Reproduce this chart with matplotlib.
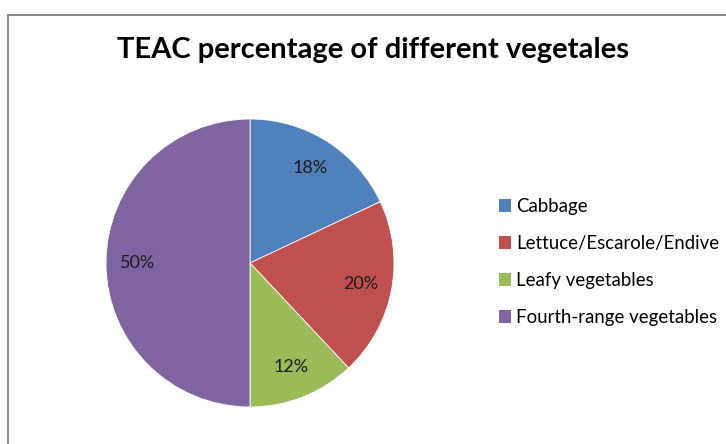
import matplotlib.pyplot as plt
from matplotlib.patches import Patch, Rectangle

# data
categories = ['Cabbage', 'Lettuce/Escarole/Endive', 'Leafy vegetables', 'Fourth-range vegetables']
shares = [18, 20, 12, 50]
colors = ['#4F81BD', '#C0504D', '#9BBB59', '#8064A2']
title = 'TEAC percentage of different vegetales'

plt.rcParams['font.family'] = ['Lato', 'DejaVu Sans']

W, H = 726, 444
fig = plt.figure(figsize=(W / 100, H / 100), dpi=100)

# outer chart frame (top-left corner visible, rest clipped)
fig.patches.append(Rectangle((8 / W, -0.1), 1.2, (H - 15) / H + 0.1,
                             transform=fig.transFigure, fill=False,
                             edgecolor='#7f7f7f', linewidth=1.3))

cx, cy, r = 250, 263, 144
ax = fig.add_axes([(cx - r) / W, (H - cy - r) / H, 2 * r / W, 2 * r / H])
wedges, texts, autotexts = ax.pie(shares, colors=colors, startangle=90, counterclock=False,
                                  autopct='%d%%', pctdistance=0.78, radius=1,
                                  wedgeprops=dict(linewidth=0.6, edgecolor='white'),
                                  textprops=dict(fontsize=13, color='#1a1a1a'))
ax.set_xlim(-1, 1)
ax.set_ylim(-1, 1)
ax.set_aspect('equal')

fig.text(373 / W, 1 - 50 / H, title, ha='center', va='center',
         fontsize=21, fontweight='bold', color='black')

handles = [Patch(facecolor=c, edgecolor='none') for c in colors]
fig.legend(handles, categories, loc='center left', bbox_to_anchor=(499 / W, 1 - 262 / H),
           frameon=False, fontsize=13.4, handlelength=0.65, handleheight=0.65,
           handletextpad=0.25, labelspacing=1.07, borderaxespad=0, borderpad=0)

fig.savefig('out.png', dpi=100)
